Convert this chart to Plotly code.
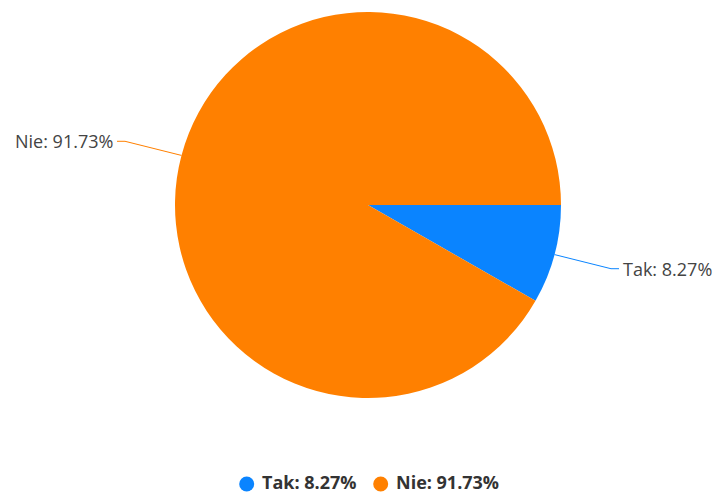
import math
import plotly.graph_objects as go

labels = ["Tak", "Nie"]
values = [8.27, 91.73]
colors = ["#0A84FF", "#FF8000"]

W, H = 716, 495
CX, CY, R = 368, 205, 193

def px(x):
    return x / W

def py(y):
    return 1 - y / H

fig = go.Figure()
fig.add_trace(go.Pie(
    labels=labels, values=values, sort=False, direction="clockwise", rotation=90,
    marker=dict(colors=colors, line=dict(color="#FFFFFF", width=0)),
    textinfo="none", hoverinfo="label+percent", showlegend=False,
    domain=dict(x=[px(CX - R), px(CX + R)], y=[py(CY + R), py(CY - R)]),
))

# outside labels with connector lines computed from the data
total = sum(values)
start = 0.0
shapes = []
annotations = []
for lab, val, col in zip(labels, values, colors):
    frac = val / total
    mid = (start + frac / 2) * 2 * math.pi
    start += frac
    c, s = math.cos(mid), math.sin(mid)
    side = 1 if c >= 0 else -1
    x0, y0 = CX + R * c, CY + R * s
    ly = CY + (R + 55) * s
    xe = CX + side * (R + 50)
    xh = CX + side * (R + 58)
    path = f"M {px(x0)},{py(y0)} L {px(xe)},{py(ly)} L {px(xh)},{py(ly)}"
    shapes.append(dict(type="path", xref="paper", yref="paper", path=path,
                       line=dict(color=col, width=1)))
    annotations.append(dict(
        x=px(xh + side * 2), y=py(ly), xref="paper", yref="paper",
        text=f"{lab}: {val:.2f}%", showarrow=False,
        xanchor="left" if side > 0 else "right", yanchor="middle",
        font=dict(family="Open Sans", size=18, color="#444444"),
    ))

# legend drawn at the bottom: circle symbol + bold text per item
LEG_Y = 484
SYM_R = 7.5
TEXT_GAP = 7
ITEM_GAP = 16
CHAR_W = 9.6  # approx. bold 18px text width per character
leg_texts = [f"{lab}: {val:.2f}%" for lab, val in zip(labels, values)]
item_w = [2 * SYM_R + TEXT_GAP + len(t) * CHAR_W for t in leg_texts]
total_w = sum(item_w) + ITEM_GAP * (len(item_w) - 1)
x = CX - total_w / 2 + 2
for t, col, w in zip(leg_texts, colors, item_w):
    shapes.append(dict(type="circle", xref="paper", yref="paper",
                       x0=px(x), x1=px(x + 2 * SYM_R),
                       y0=py(LEG_Y + SYM_R), y1=py(LEG_Y - SYM_R),
                       fillcolor=col, line=dict(width=0)))
    annotations.append(dict(
        x=px(x + 2 * SYM_R + TEXT_GAP), y=0, xref="paper", yref="paper",
        text=t, showarrow=False, xanchor="left", yanchor="bottom", borderpad=0,
        font=dict(family="Open Sans", size=18, color="#333333", weight="bold"),
    ))
    x += w + ITEM_GAP

fig.update_layout(
    width=W, height=H,
    margin=dict(l=0, r=0, t=0, b=0),
    paper_bgcolor="white", plot_bgcolor="white",
    showlegend=False,
    shapes=shapes, annotations=annotations,
)

fig.write_html("out.html")
